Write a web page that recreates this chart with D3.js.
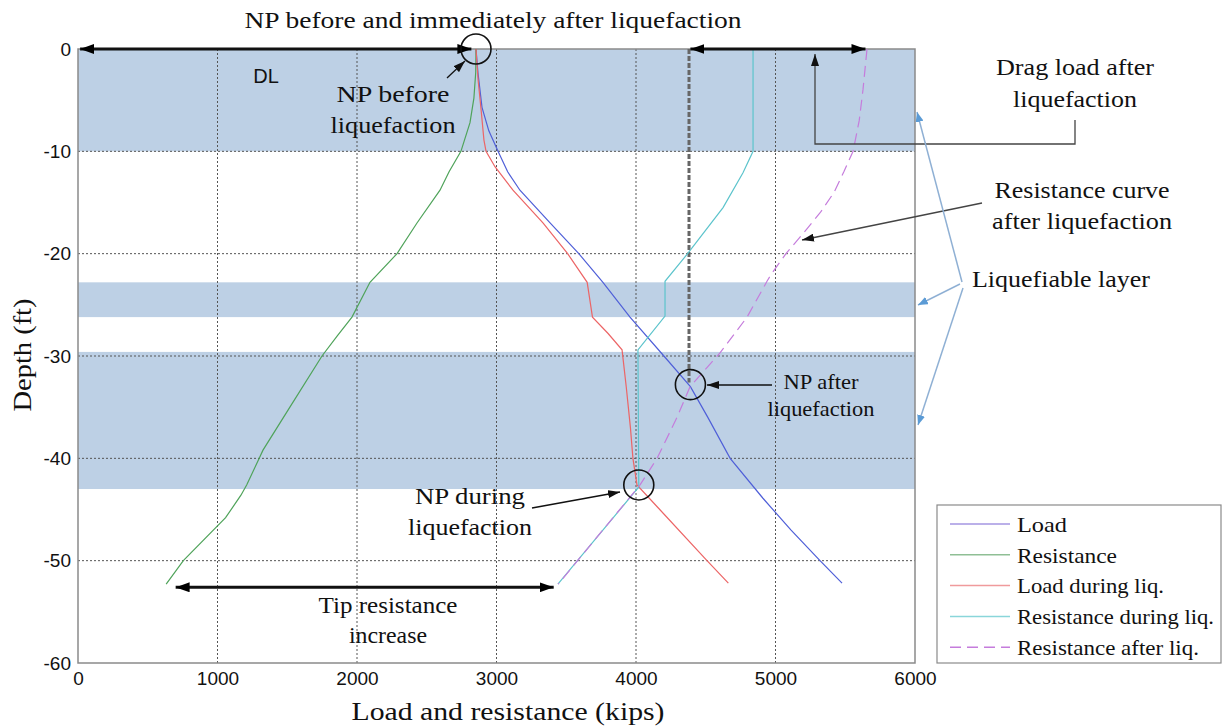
<!DOCTYPE html>
<html>
<head>
<meta charset="utf-8">
<script src="https://cdn.jsdelivr.net/npm/d3@7"></script>
<style>
  body { margin: 0; background: #fff; }
  svg { display: block; }
  .serif { font-family: "Times New Roman", "Liberation Serif", Times, serif; fill: #111; }
  .sans { font-family: Arial, "Liberation Sans", sans-serif; fill: #111; }
</style>
</head>
<body>
<div id="chart"></div>
<script>
// depth (ft) and load / resistance (kips)
const loadDepth = [0, -2.3, -5.7, -8, -10, -12, -13.8, -17, -20, -22.8, -26.2, -30, -33, -36, -40, -43.9, -47, -50, -52.2];
const loadVal = [2853, 2867, 2896, 2945, 3011, 3080, 3168, 3384, 3590, 3763, 3957, 4200, 4390, 4515, 4675, 4910, 5110, 5319, 5477];

const resDepth = [0, -2.3, -4.8, -7.2, -10, -12, -13.8, -17, -20, -22.8, -26.2, -28, -30, -35, -39.2, -40, -42.6, -43.6, -45.8, -50, -52.3];
const resVal = [2853, 2851, 2838, 2810, 2745, 2660, 2595, 2430, 2287, 2093, 1964, 1860, 1749, 1519, 1326, 1299, 1209, 1168, 1058, 755, 632];

const loadLiqDepth = [0, -3, -6, -8.9, -10, -11.5, -13.8, -17, -20, -22.8, -26.2, -27.8, -29.4, -33, -37, -40, -42.6, -45, -50, -52.2];
const loadLiqVal = [2853, 2868, 2890, 2910, 2925, 2989, 3118, 3333, 3510, 3650, 3688, 3800, 3900, 3930, 3960, 3978, 4007, 4170, 4509, 4662];

const resLiqDepth = [0, -10, -12.1, -15.5, -20, -22.7, -26.1, -29.4, -42.8, -52.3];
const resLiqVal = [4839, 4839, 4767, 4624, 4370, 4208, 4208, 4014, 4020, 3440];

const resAfterDepth = [0, -4, -7, -10, -12, -14, -16, -18, -20, -22, -22.7, -26.2, -29.7, -33, -36, -40, -42.6, -52.3];
const resAfterVal = [5656, 5627, 5600, 5556, 5490, 5420, 5320, 5200, 5075, 4970, 4939, 4796, 4602, 4387, 4294, 4151, 4029, 3442];

// liquefiable layers (top, bottom depth)
const layers = [[0, -10], [-22.8, -26.2], [-29.6, -43.0]];

const xTicks = [0, 1000, 2000, 3000, 4000, 5000, 6000];
const yTicks = [0, -10, -20, -30, -40, -50, -60];

const seriesNames = ["Load", "Resistance", "Load during liq.", "Resistance during liq.", "Resistance after liq."];
const seriesColors = ["#4f5fd8", "#4fa35a", "#ec6566", "#5cc4cc", "#c57cdc"];
const legendColors = ["#a496e2", "#8fbf95", "#f09a9c", "#8ad6da", "#c57cdc"];
const legendWidths = [50, 100, 147, 197, 182];

const W = 1225, H = 727;
const svg = d3.select("#chart").append("svg").attr("width", W).attr("height", H);

const x = d3.scaleLinear().domain([0, 6000]).range([78, 915]);
const y = d3.scaleLinear().domain([0, -60]).range([49, 663]);

// arrow markers
const defs = svg.append("defs");
function marker(id, color, w, h) {
  defs.append("marker")
    .attr("id", id).attr("viewBox", `0 0 ${w} ${h}`)
    .attr("refX", w).attr("refY", h / 2)
    .attr("markerWidth", w).attr("markerHeight", h)
    .attr("markerUnits", "userSpaceOnUse")
    .attr("orient", "auto-start-reverse")
    .append("path").attr("d", `M0,0L${w},${h / 2}L0,${h}z`).attr("fill", color);
}
marker("blk", "#000", 14, 10);
marker("blkS", "#111", 12, 8);
marker("blu", "#5b9bd5", 10, 8);

// bands
svg.append("g").selectAll("rect").data(layers).join("rect")
  .attr("x", x(0)).attr("width", x(6000) - x(0))
  .attr("y", d => y(d[0])).attr("height", d => y(d[1]) - y(d[0]))
  .attr("fill", "#bdd0e5");

// grid
const grid = svg.append("g").attr("stroke", "#555").attr("stroke-width", 1).attr("stroke-dasharray", "2,2");
grid.selectAll(".gx").data(xTicks.slice(1, -1)).join("line")
  .attr("x1", d => x(d)).attr("x2", d => x(d)).attr("y1", y(0)).attr("y2", y(-60));
grid.selectAll(".gy").data(yTicks.slice(1, -1)).join("line")
  .attr("y1", d => y(d)).attr("y2", d => y(d)).attr("x1", x(0)).attr("x2", x(6000));

// axes
const xAxis = svg.append("g").attr("transform", `translate(0,${y(-60)})`)
  .call(d3.axisBottom(x).tickValues(xTicks).tickSize(0).tickPadding(9).tickFormat(d => String(d)));
const yAxis = svg.append("g").attr("transform", `translate(${x(0)},0)`)
  .call(d3.axisLeft(y).tickValues(yTicks).tickSize(0).tickPadding(7).tickFormat(d => String(d)));
[xAxis, yAxis].forEach(a => {
  a.select(".domain").remove();
  a.selectAll("text").attr("class", "sans").style("font-size", "19px")
    .style("font-family", "Arial, 'Liberation Sans', sans-serif").attr("fill", "#111");
});

svg.append("rect").attr("x", x(0)).attr("y", y(0))
  .attr("width", x(6000) - x(0)).attr("height", y(-60) - y(0))
  .attr("fill", "none").attr("stroke", "#8a8a8a").attr("stroke-width", 1.5);

// drag-load vertical dashed line
svg.append("line").attr("x1", x(4380)).attr("x2", x(4380)).attr("y1", y(0)).attr("y2", y(-32.6))
  .attr("stroke", "#666").attr("stroke-width", 3).attr("stroke-dasharray", "5,2");

// curves
const series = [
  [loadDepth, loadVal],
  [resDepth, resVal],
  [loadLiqDepth, loadLiqVal],
  [resLiqDepth, resLiqVal],
  [resAfterDepth, resAfterVal]
];
const line = d3.line().x(d => x(d[1])).y(d => y(d[0])).curve(d3.curveLinear);
series.forEach((s, i) => {
  const pts = s[0].map((dep, j) => [dep, s[1][j]]);
  svg.append("path").datum(pts).attr("d", line)
    .attr("fill", "none").attr("stroke", seriesColors[i]).attr("stroke-width", 1.2)
    .attr("stroke-dasharray", i === 4 ? "11,6" : null);
});

// annotation helpers
function arrow(x1, y1, x2, y2, opts = {}) {
  const l = svg.append("line").attr("x1", x1).attr("y1", y1).attr("x2", x2).attr("y2", y2)
    .attr("stroke", opts.color || "#111").attr("stroke-width", opts.w || 1.3)
    .attr("marker-end", `url(#${opts.m || "blkS"})`);
  if (opts.both) l.attr("marker-start", `url(#${opts.m || "blkS"})`);
  return l;
}
const serifFont = "'Times New Roman', 'Liberation Serif', Times, serif";
// lines: [text, width]; the source figure's serif text is slightly stretched
function label(lines, cx, cy, size, anchor = "middle", lh = 31) {
  const t = svg.append("text").attr("class", "serif").attr("text-anchor", anchor)
    .style("font-family", serifFont).style("font-size", size + "px");
  lines.forEach((s, i) => t.append("tspan").attr("x", cx).attr("y", cy + i * lh).attr("dy", "0.35em")
    .attr("textLength", s[1]).attr("lengthAdjust", "spacingAndGlyphs").text(s[0]));
}
function ring(kips, depth) {
  svg.append("circle").attr("cx", x(kips)).attr("cy", y(depth)).attr("r", 15)
    .attr("fill", "none").attr("stroke", "#111").attr("stroke-width", 1.6);
}

// DL and drag load arrows
arrow(x(15), y(0), x(2820), y(0), { both: true, m: "blk", w: 3 });
arrow(x(4390), y(0), x(5645), y(0), { both: true, m: "blk", w: 3 });
svg.append("text").attr("class", "sans").attr("x", 266).attr("y", 76).attr("dy", "0.35em")
  .attr("text-anchor", "middle").style("font-size", "20px")
  .style("font-family", "Arial, 'Liberation Sans', sans-serif").text("DL");

ring(2853, 0);
ring(4390, -32.8);
ring(4020, -42.6);

label([["NP before and immediately after liquefaction", 497]], 493, 20, 24);
label([["NP before", 113], ["liquefaction", 125]], 393, 94, 24, "middle", 31);
arrow(447, 78, 465, 61);

// drag load connector
svg.append("path").attr("d", `M1075,120V144H815V54`).attr("fill", "none")
  .attr("stroke", "#444").attr("stroke-width", 1.3).attr("marker-end", "url(#blkS)");
label([["Drag load after", 158], ["liquefaction", 124]], 1075, 67, 24, "middle", 32);

label([["Resistance curve", 175], ["after liquefaction", 180]], 1082, 190, 24, "middle", 31);
arrow(982, 203, 802, 240, { color: "#444" });

label([["Liquefiable layer", 178]], 972, 279, 24, "start");
arrow(962, 282, 917, 112, { color: "#8fb0d4", m: "blu", w: 1.5 });
arrow(960, 284, 918, 305, { color: "#8fb0d4", m: "blu", w: 1.5 });
arrow(963, 288, 918, 425, { color: "#8fb0d4", m: "blu", w: 1.5 });

label([["NP after", 75], ["liquefaction", 107]], 821, 382, 21, "middle", 27);
arrow(772, 385, 707, 385);

label([["NP during", 110], ["liquefaction", 124]], 470, 496, 24, "middle", 31);
arrow(532, 508, 620, 492);

arrow(x(700), y(-52.6), x(3410), y(-52.6), { both: true, m: "blk", w: 3 });
label([["Tip resistance", 139], ["increase", 78]], 388, 605, 24, "middle", 30);

// axis titles
label([["Load and resistance (kips)", 313]], 508, 711, 25);
svg.append("text").attr("class", "serif").attr("transform", `translate(22,355) rotate(-90)`)
  .attr("text-anchor", "middle").attr("dy", "0.35em").style("font-size", "25px")
  .style("font-family", serifFont)
  .attr("textLength", 113).attr("lengthAdjust", "spacingAndGlyphs").text("Depth (ft)");

// legend
const lg = svg.append("g");
lg.append("rect").attr("x", 937).attr("y", 505).attr("width", 284).attr("height", 158)
  .attr("fill", "#fff").attr("stroke", "#8a8a8a").attr("stroke-width", 1.2);
seriesNames.forEach((n, i) => {
  const yy = 524 + i * 30.8;
  lg.append("line").attr("x1", 950).attr("x2", 1010).attr("y1", yy).attr("y2", yy)
    .attr("stroke", legendColors[i]).attr("stroke-width", 1.5)
    .attr("stroke-dasharray", i === 4 ? "11,6" : null);
  lg.append("text").attr("class", "serif").attr("x", 1017).attr("y", yy).attr("dy", "0.35em")
    .style("font-family", serifFont).style("font-size", "22px")
    .attr("textLength", legendWidths[i]).attr("lengthAdjust", "spacingAndGlyphs").text(n);
});
</script>
</body>
</html>
